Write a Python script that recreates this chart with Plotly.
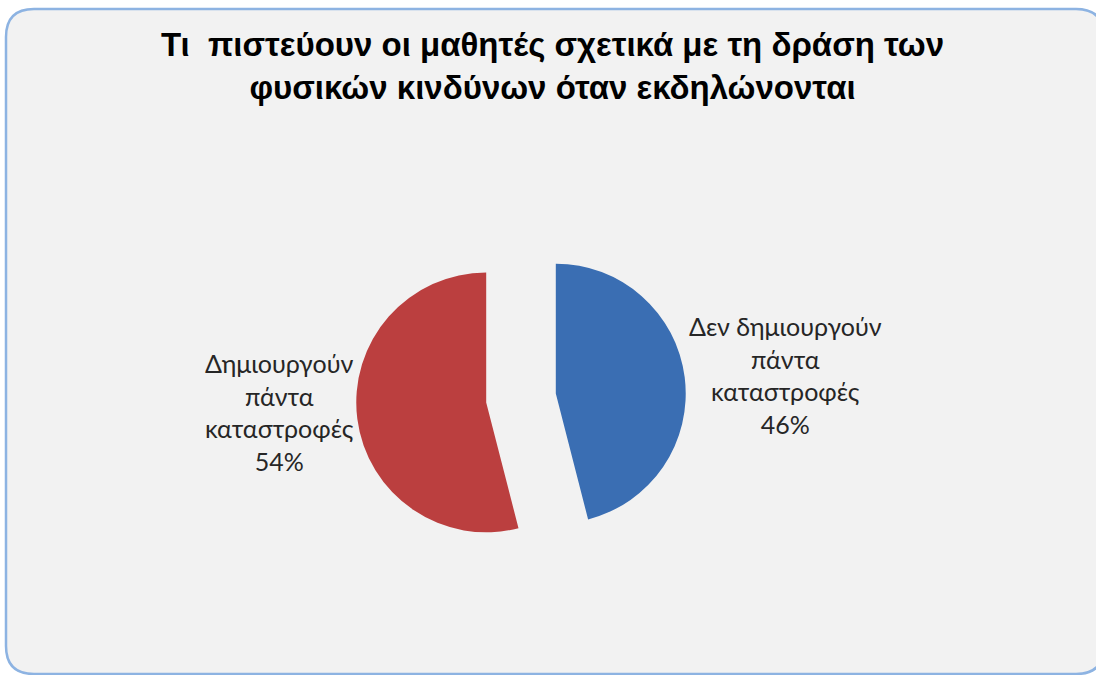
import plotly.graph_objects as go

labels = ["Δεν δημιουργούν<br>πάντα<br>καταστροφές", "Δημιουργούν<br>πάντα<br>καταστροφές"]
values = [46, 54]
colors = ["#3a6eb3", "#bb3f3f"]
title_lines = ["Τι  πιστεύουν οι μαθητές σχετικά με τη δράση των",
               "φυσικών κινδύνων όταν εκδηλώνονται"]

W, H = 1096, 675
cx, cy, half = 521, 398, 165

def px(x):
    return x / W

def py(y):
    return 1 - y / H

fig = go.Figure(go.Pie(
    labels=labels,
    values=values,
    sort=False,
    direction="clockwise",
    rotation=0,
    pull=[0.27, 0.27],
    marker=dict(colors=colors, line=dict(width=0)),
    textinfo="none",
    showlegend=False,
    hoverinfo="label+percent",
    domain=dict(x=[px(cx - half), px(cx + half)],
                y=[py(cy + half), py(cy - half)]),
))

# data labels (text from the data arrays)
total = sum(values)
label_pos = [(785, 375), (279, 412)]
annotations = []
for lab, val, (lx, ly) in zip(labels, values, label_pos):
    annotations.append(dict(
        text=f"{lab}<br>{round(100 * val / total)}%",
        x=px(lx), y=py(ly), xref="paper", yref="paper",
        xanchor="center", yanchor="middle", showarrow=False, align="center",
        font=dict(family="Lato", size=25, color="#262626"),
    ))

annotations.append(dict(
    text="<b>" + "<br>".join(title_lines) + "</b>",
    x=px(552), y=py(66), xref="paper", yref="paper",
    xanchor="center", yanchor="middle", showarrow=False, align="center",
    font=dict(family="Liberation Sans Narrow, Arial Narrow, sans-serif",
              size=33, color="#000000"),
))

x0, x1, y0, y1 = 6, 1104, 9, 674
r = 28
path = (f"M {px(x0 + r)} {py(y0)} L {px(x1 - r)} {py(y0)} "
        f"Q {px(x1)} {py(y0)} {px(x1)} {py(y0 + r)} "
        f"L {px(x1)} {py(y1 - r)} Q {px(x1)} {py(y1)} {px(x1 - r)} {py(y1)} "
        f"L {px(x0 + r)} {py(y1)} Q {px(x0)} {py(y1)} {px(x0)} {py(y1 - r)} "
        f"L {px(x0)} {py(y0 + r)} Q {px(x0)} {py(y0)} {px(x0 + r)} {py(y0)} Z")

fig.update_layout(
    width=W, height=H,
    margin=dict(l=0, r=0, t=0, b=0),
    paper_bgcolor="white",
    shapes=[dict(type="path", xref="paper", yref="paper", path=path,
                 fillcolor="#f2f2f2", line=dict(color="#8db3e2", width=2.5),
                 layer="below")],
    annotations=annotations,
)

fig.write_html("out.html", config={"displayModeBar": False},
               post_script="document.body.style.margin='0';document.body.style.overflow='hidden';")
